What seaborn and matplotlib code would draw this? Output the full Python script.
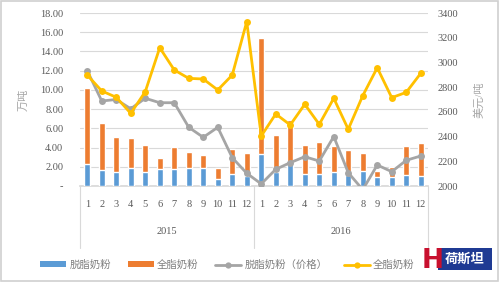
import numpy as np
import pandas as pd
import matplotlib
matplotlib.use("Agg")
import matplotlib.pyplot as plt
import matplotlib.transforms as mtransforms
from matplotlib.patches import Patch, Rectangle
from matplotlib.lines import Line2D
import seaborn as sns

# ---- data ----
years = ["2015", "2016"]
months = [str(m) for m in range(1, 13)]
skim_volume = [2.3, 1.7, 1.5, 1.9, 1.5, 1.75, 1.75, 1.9, 1.9, 0.75, 1.2, 1.07,
               3.33, 1.45, 2.45, 1.3, 1.25, 1.5, 1.15, 1.55, 0.9, 0.9, 1.15, 1.07]
whole_volume = [7.9, 4.9, 3.55, 3.05, 2.75, 1.2, 2.3, 1.6, 1.3, 1.15, 2.7, 2.4,
                12.1, 3.9, 4.45, 2.95, 3.3, 2.7, 2.6, 1.85, 0.65, 1.05, 3.0, 3.4]
skim_price = [2933, 2688, 2700, 2625, 2710, 2674, 2674, 2475, 2394, 2475, 2229, 2103,
              2017, 2135, 2189, 2237, 2202, 2400, 2108, 1970, 2170, 2116, 2208, 2243]
whole_price = [2898, 2769, 2718, 2588, 2763, 3119, 2939, 2871, 2866, 2777, 2898, 3330,
               2405, 2583, 2494, 2661, 2499, 2710, 2459, 2731, 2957, 2715, 2758, 2912]
series_names = ["脱脂奶粉", "全脂奶粉", "脱脂奶粉（价格）", "全脂奶粉"]
left_ticks = [0, 2, 4, 6, 8, 10, 12, 14, 16, 18]
right_ticks = [2000, 2200, 2400, 2600, 2800, 3000, 3200, 3400]

c_blue = "#5B9BD5"
c_orange = "#ED7D31"
c_gray = "#A5A5A5"
c_yellow = "#FFC000"
c_text = "#595959"

sns.set_theme(style="white")
plt.rcParams["font.family"] = ["Liberation Serif", "Noto Sans CJK SC", "DejaVu Sans"]

keys = [f"{y}-{m}" for y in years for m in months]
df = pd.DataFrame({
    "key": keys,
    "skim": skim_volume,
    "whole": whole_volume,
})
df["total"] = df["skim"] + df["whole"]
df["pos"] = np.arange(len(df))
df["skim_price"] = skim_price
df["whole_price"] = whole_price

fig = plt.figure(figsize=(5, 2.82), dpi=100)
fig.patch.set_facecolor("white")
ax = fig.add_axes([0.16, 0.3404, 0.696, 0.6135])

sns.barplot(data=df, x="key", y="total", order=keys, color=c_orange,
            saturation=1, width=0.4, ax=ax, zorder=2)
sns.barplot(data=df, x="key", y="skim", order=keys, color=c_blue,
            saturation=1, width=0.4, ax=ax, zorder=3)
ax.set_ylim(0, 18)
ax.set_yticks(left_ticks)
ax.set_yticklabels(["-"] + [f"{v:.2f}" for v in left_ticks[1:]])
ax.set_xlim(-0.5, 23.5)
ax.set_xticks(range(24))
ax.set_xticklabels(months * 2)
ax.grid(axis="y", color="#D9D9D9", linewidth=0.8, zorder=0)
ax.set_axisbelow(True)
for s in ["top", "right", "left"]:
    ax.spines[s].set_visible(False)
ax.spines["bottom"].set_color("#D9D9D9")
ax.tick_params(axis="x", length=0, pad=10, labelsize=7.5, colors=c_text)
ax.tick_params(axis="y", length=0, pad=12, labelsize=7.5, colors=c_text)
ax.set_xlabel("")
ax.set_ylabel("万吨", fontsize=8, color="#A6A6A6", labelpad=8)

ax2 = ax.twinx()
sns.lineplot(data=df, x="pos", y="skim_price", color=c_gray, marker="o",
             markersize=5, markeredgewidth=0, linewidth=2, ax=ax2)
sns.lineplot(data=df, x="pos", y="whole_price", color=c_yellow, marker="o",
             markersize=5, markeredgewidth=0, linewidth=2, ax=ax2)
ax2.set_ylim(2000, 3400)
ax2.set_yticks(right_ticks)
ax2.set_yticklabels([str(v) for v in right_ticks])
ax2.set_xlim(-0.5, 23.5)
for s in ["top", "right", "left", "bottom"]:
    ax2.spines[s].set_visible(False)
ax2.tick_params(axis="y", length=0, pad=7, labelsize=7.5, colors=c_text)
ax2.set_xlabel("")
ax2.set_ylabel("美元/吨", fontsize=8, color="#A6A6A6", labelpad=11)
ax2.grid(False)

# multi-level category axis: separators and year labels
trans = mtransforms.blended_transform_factory(ax.transData, ax.transAxes)
for xs in [-0.5, 11.5, 23.5]:
    ax.plot([xs, xs], [0, -0.36], transform=trans, color="#D9D9D9",
            linewidth=0.8, clip_on=False)
for i, y in enumerate(years):
    ax.text(5.5 + 12 * i, -0.265, y, transform=trans, ha="center", va="center",
            fontsize=7.5, color=c_text)

handles = [
    Patch(facecolor=c_blue, edgecolor="none"),
    Patch(facecolor=c_orange, edgecolor="none"),
    Line2D([0], [0], color=c_gray, marker="o", markersize=4.5, linewidth=2,
           markeredgewidth=0),
    Line2D([0], [0], color=c_yellow, marker="o", markersize=4.5, linewidth=2,
           markeredgewidth=0),
]
leg = fig.legend(handles, series_names, loc="center", bbox_to_anchor=(0.455, 0.06),
                 ncol=4, frameon=False, fontsize=7.5, handlelength=2.5,
                 handleheight=0.5, columnspacing=1.6, handletextpad=0.3)
for t in leg.get_texts():
    t.set_color("#7F7F7F")

# logo
fig.patches.append(Rectangle((0.876, 0.043), 0.108, 0.078, transform=fig.transFigure,
                             facecolor="#1F3A93", edgecolor="none"))
fig.text(0.930, 0.082, "荷斯坦", color="white", fontsize=9.5, fontweight="bold",
         ha="center", va="center", family=["Noto Sans CJK SC"])
fig.text(0.866, 0.075, "H", color="#C8102E", fontsize=19, fontweight="bold",
         ha="center", va="center", family=["DejaVu Sans"])

# outer frame
fig.patches.append(Rectangle((0.002, 0.004), 0.994, 0.992, transform=fig.transFigure,
                             facecolor="none", edgecolor="#D0D0D0", linewidth=1.2))

fig.savefig("out.png", dpi=100)
